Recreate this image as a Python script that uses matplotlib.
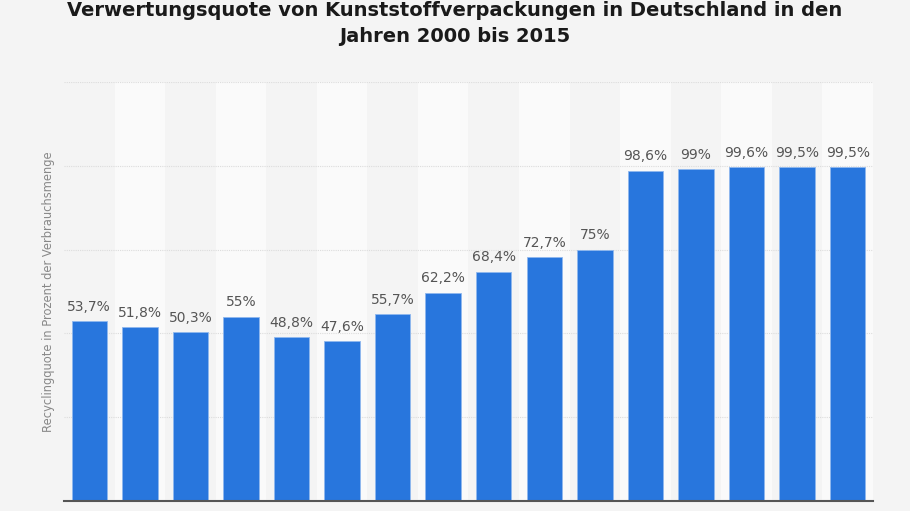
import matplotlib.pyplot as plt
import numpy as np

years = list(range(2000, 2016))
quote = [53.7, 51.8, 50.3, 55.0, 48.8, 47.6, 55.7, 62.2, 68.4, 72.7, 75.0,
         98.6, 99.0, 99.6, 99.5, 99.5]
labels = ["53,7%", "51,8%", "50,3%", "55%", "48,8%", "47,6%", "55,7%", "62,2%",
          "68,4%", "72,7%", "75%", "98,6%", "99%", "99,6%", "99,5%", "99,5%"]
grid_vals = [25, 50, 75, 100, 125]

bg = "#f4f4f4"
fig = plt.figure(figsize=(9.1, 5.11), dpi=100, facecolor=bg)
ax = fig.add_axes([0.0703, 0.0196, 0.889, 0.8199], facecolor=bg)

x = np.arange(len(years))
for i in x:
    if i % 2 == 1:
        ax.axvspan(i - 0.5, i + 0.5, ymin=0, ymax=1, color="#fafafa", zorder=0, lw=0)

for g in grid_vals:
    ax.axhline(g, color="#dcdcdc", lw=0.8, ls=(0, (1, 1)), zorder=1)

bars = ax.bar(x, quote, width=0.7, color="#2876dd", edgecolor="#8fb8ee",
              linewidth=0.6, zorder=2)
for b, lab in zip(bars, labels):
    ax.text(b.get_x() + b.get_width() / 2, b.get_height() + 2.2, lab,
            ha="center", va="bottom", fontsize=10, color="#555555")

ax.set_xlim(-0.5, len(years) - 0.5)
ax.set_ylim(0, 125)
ax.set_xticks([])
ax.set_yticks([])
for s in ["top", "right", "left"]:
    ax.spines[s].set_visible(False)
ax.spines["bottom"].set_color("#555555")
ax.spines["bottom"].set_linewidth(1.5)

fig.text(0.053, 0.43, "Recyclingquote in Prozent der Verbrauchsmenge",
         rotation=90, ha="center", va="center", fontsize=8.3, color="#888888")

fig.text(0.5, 0.998, "Verwertungsquote von Kunststoffverpackungen in Deutschland in den\nJahren 2000 bis 2015",
         ha="center", va="top", fontsize=14, fontweight="bold",
         color="#1a1a1a", linespacing=1.45)

fig.savefig("out.png", dpi=100, facecolor=bg)
